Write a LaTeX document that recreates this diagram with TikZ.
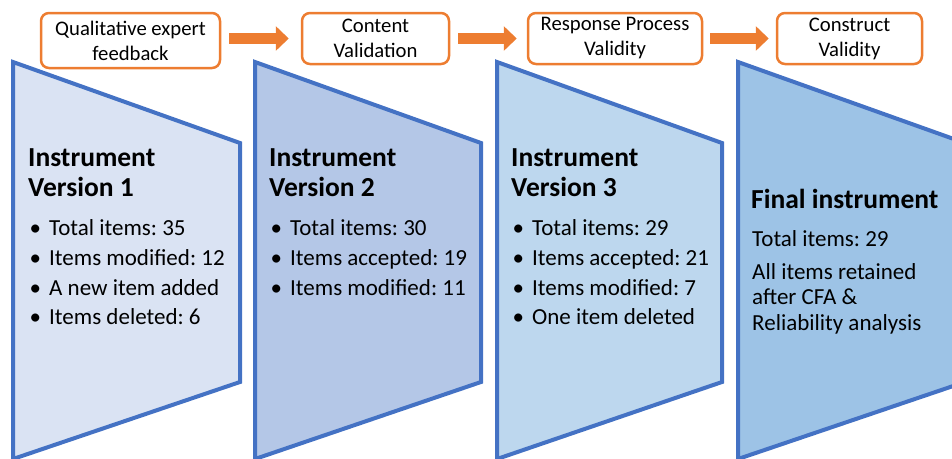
\documentclass[tikz,border=0pt]{standalone}
\usepackage{fontspec}
\setmainfont{Carlito}
\usetikzlibrary{arrows.meta}
\frenchspacing

\definecolor{edgeblue}{HTML}{4472C4}
\definecolor{accent}{HTML}{ED7D31}
\definecolor{fillA}{HTML}{DAE3F3}
\definecolor{fillB}{HTML}{B4C7E7}
\definecolor{fillC}{HTML}{BDD7EE}
\definecolor{fillD}{HTML}{9DC3E6}

\newcommand{\blt}[1]{\makebox[19.5pt][l]{\textbullet}#1}

\begin{document}
\begin{tikzpicture}[x=1pt,y=-1pt,
  stage/.style={draw=edgeblue, line width=4pt, line join=miter},
  titletext/.style={anchor=base west, inner sep=0pt, font=\fontsize{27.5}{30}\selectfont\bfseries},
  bodytext/.style={anchor=base west, inner sep=0pt, font=\fontsize{23}{26}\selectfont},
  stepbox/.style={draw=accent, line width=2.5pt, rounded corners=8pt, fill=white,
    align=center, inner sep=0pt, font=\fontsize{20.7}{25}\selectfont},
  flow/.style={draw=accent, line width=11pt, -{Triangle[length=13pt,width=24pt]}}]

\useasboundingbox (0,0) rectangle (952,458);
\clip (0,0) rectangle (952,458);

% funnel-shaped stages
\fill[fillA] (13,62) -- (240,143) -- (240,382) -- (13,459) -- cycle;
\draw[stage] (13,62) -- (240,143) -- (240,382) -- (13,459) -- cycle;
\fill[fillB] (255,62) -- (481,143) -- (481,382) -- (255,459) -- cycle;
\draw[stage] (255,62) -- (481,143) -- (481,382) -- (255,459) -- cycle;
\fill[fillC] (497,62) -- (722,143) -- (722,382) -- (497,459) -- cycle;
\draw[stage] (497,62) -- (722,143) -- (722,382) -- (497,459) -- cycle;
\fill[fillD] (738,62) -- (965,143) -- (965,382) -- (738,459) -- cycle;
\draw[stage] (738,62) -- (965,143) -- (965,382) -- (738,459) -- cycle;

% process steps
\node[stepbox, minimum width=179pt, minimum height=55pt] (q1) at (130.5,40.5)
  {Qualitative expert\\feedback};
\node[stepbox, minimum width=147pt, minimum height=51pt] (q2) at (375.5,38.5)
  {Content\\Validation};
\node[stepbox, minimum width=174pt, minimum height=51pt] (q3) at (615,38.5)
  {Response Process\\Validity};
\node[stepbox, minimum width=145pt, minimum height=51pt] (q4) at (849.5,38.5)
  {Construct\\Validity};

\draw[flow] ([xshift=8pt]q1.east |- q2.west) -- ([xshift=-12pt]q2.west);
\draw[flow] ([xshift=8pt]q2.east) -- ([xshift=-10pt]q3.west);
\draw[flow] ([xshift=7pt]q3.east) -- ([xshift=-7pt]q4.west);

% version 1
\node[titletext] (t1a) at (28,166) {Instrument};
\node[titletext] (t1b) at (28,196) {Version 1};
\node[bodytext] (b1a) at (29.5,235) {\blt{Total items: 35}};
\node[bodytext] (b1b) at (29.5,265) {\blt{Items modified: 12}};
\node[bodytext] (b1c) at (29.5,295) {\blt{A new item added}};
\node[bodytext] (b1d) at (29.5,324) {\blt{Items deleted: 6}};

% version 2
\node[titletext] (t2a) at (269,166) {Instrument};
\node[titletext] (t2b) at (269,196) {Version 2};
\node[bodytext] (b2a) at (270.5,235) {\blt{Total items: 30}};
\node[bodytext] (b2b) at (270.5,265) {\blt{Items accepted: 19}};
\node[bodytext] (b2c) at (270.5,295) {\blt{Items modified: 11}};

% version 3
\node[titletext] (t3a) at (511,166) {Instrument};
\node[titletext] (t3b) at (511,196) {Version 3};
\node[bodytext] (b3a) at (512.5,235) {\blt{Total items: 29}};
\node[bodytext] (b3b) at (512.5,265) {\blt{Items accepted: 21}};
\node[bodytext] (b3c) at (512.5,295) {\blt{Items modified: 7}};
\node[bodytext] (b3d) at (512.5,324) {\blt{One item deleted}};

% final instrument
\node[titletext] (t4a) at (751,208) {Final instrument};
\node[bodytext] (b4a) at (752,246) {Total items: 29};
\node[bodytext] (b4b) at (752,279) {All items retained};
\node[bodytext] (b4c) at (752,304) {after CFA \&};
\node[bodytext] (b4d) at (752,330) {Reliability analysis};
\end{tikzpicture}
\end{document}
